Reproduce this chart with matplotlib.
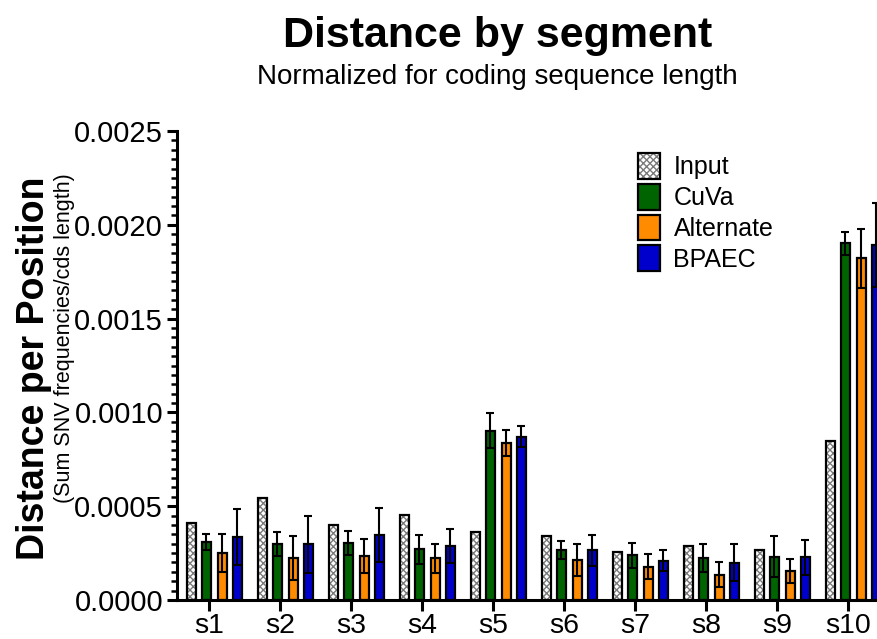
import matplotlib.pyplot as plt
import numpy as np
from matplotlib.ticker import MultipleLocator, FormatStrFormatter

plt.rcParams['font.family'] = ['Liberation Sans', 'DejaVu Sans']
plt.rcParams['hatch.linewidth'] = 1.0

segments = ['s1', 's2', 's3', 's4', 's5', 's6', 's7', 's8', 's9', 's10']
series = ['Input', 'CuVa', 'Alternate', 'BPAEC']

input_vals = [0.000412, 0.000544, 0.000398, 0.000453, 0.000361,
              0.000343, 0.000256, 0.000288, 0.000268, 0.000849]
cuva_vals = [0.000311, 0.000297, 0.000306, 0.000270, 0.000903,
             0.000267, 0.000238, 0.000222, 0.000231, 0.001901]
cuva_err = [0.000042, 0.000064, 0.000064, 0.000076, 0.000092,
            0.000046, 0.000068, 0.000075, 0.000110, 0.000062]
alt_vals = [0.000252, 0.000224, 0.000235, 0.000222, 0.000837,
            0.000213, 0.000178, 0.000135, 0.000156, 0.001821]
alt_err = [0.000100, 0.000117, 0.000090, 0.000078, 0.000070,
           0.000084, 0.000065, 0.000066, 0.000064, 0.000158]
bpaec_vals = [0.000338, 0.000297, 0.000345, 0.000288, 0.000871,
              0.000265, 0.000210, 0.000199, 0.000228, 0.001891]
bpaec_err = [0.000149, 0.000153, 0.000144, 0.000092, 0.000055,
             0.000083, 0.000055, 0.000098, 0.000092, 0.000224]

colors = ['white', '#006400', '#ff8c00', '#0000cd']

fig = plt.figure(figsize=(8.77, 6.39), dpi=100)
ax = fig.add_axes([0.2018, 0.061, 0.7982, 0.734])

x = np.arange(len(segments))
width = 0.13
offsets = [-0.246, -0.035, 0.19, 0.40]

values = [input_vals, cuva_vals, alt_vals, bpaec_vals]
errors = [None, cuva_err, alt_err, bpaec_err]
handles = []

for i, (name, vals, err) in enumerate(zip(series, values, errors)):
    if i == 0:
        # checkered input bars: grey hatch, then black outline on top
        hb = ax.bar(x + offsets[i], vals, width, color='white', edgecolor='#7a7a7a',
                    hatch='xxxxx', linewidth=0, zorder=2)
        ob = ax.bar(x + offsets[i], vals, width, fill=False, edgecolor='black',
                    linewidth=1.6, zorder=3)
        handles.append((hb, ob))
    else:
        b = ax.bar(x + offsets[i], vals, width, color=colors[i], edgecolor='black',
                   linewidth=1.6, zorder=2)
        ax.errorbar(x + offsets[i], vals, yerr=err, fmt='none', ecolor='black',
                    elinewidth=1.5, capsize=3, capthick=1.5, zorder=4)
        handles.append(b)

ax.set_xlim(-0.45, 9.41)
ax.set_ylim(0, 0.0025)
ax.yaxis.set_major_locator(MultipleLocator(0.0005))
ax.yaxis.set_minor_locator(MultipleLocator(0.00005))
ax.yaxis.set_major_formatter(FormatStrFormatter('%.4f'))
ax.set_xticks(x)
ax.set_xticklabels(segments)

for s in ['top', 'right']:
    ax.spines[s].set_visible(False)
for s in ['left', 'bottom']:
    ax.spines[s].set_linewidth(2.2)

ax.tick_params(axis='y', which='major', length=7, width=2.2, labelsize=21, pad=3)
ax.tick_params(axis='y', which='minor', length=4.5, width=1.8)
ax.tick_params(axis='x', which='major', length=8, width=2.2, labelsize=20.5, pad=1)

fig.text(0.039, 0.424, 'Distance per Position', rotation=90, fontsize=27,
         fontweight='bold', ha='center', va='center')
fig.text(0.073, 0.471, '(Sum SNV frequencies/cds length)', rotation=90, fontsize=15.5,
         ha='center', va='center')

fig.text(0.567, 0.943, 'Distance by segment', fontsize=31, fontweight='bold',
         ha='center', va='center')
fig.text(0.567, 0.880, 'Normalized for coding sequence length', fontsize=20,
         ha='center', va='center')

ax.legend(handles, series, loc='upper left', bbox_to_anchor=(0.645, 0.974),
          frameon=False, fontsize=18, handlelength=0.85, handleheight=1.2,
          handletextpad=0.55, labelspacing=0.18, borderaxespad=0)

fig.savefig('out.png', dpi=100)
